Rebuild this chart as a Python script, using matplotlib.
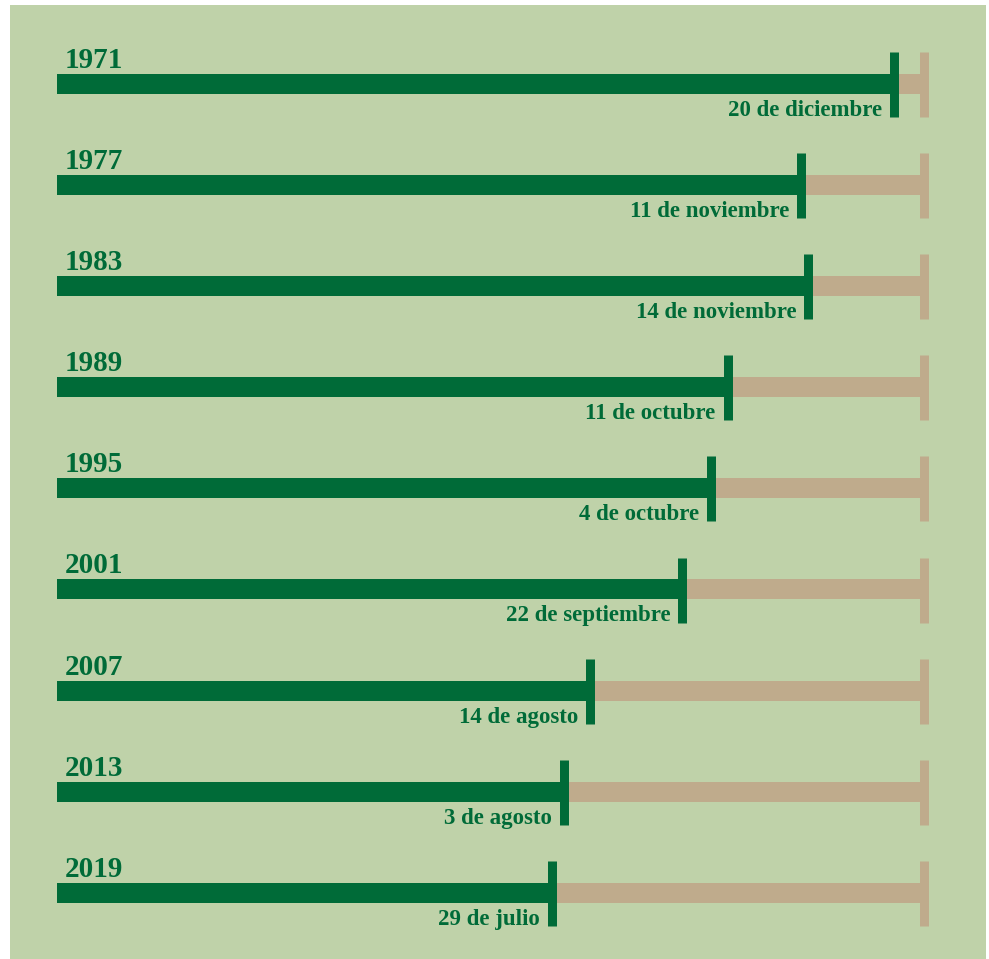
import matplotlib.pyplot as plt
from matplotlib.patches import Rectangle

# ------------------------------------------------------------
#  Datos: día del año en que se agotan los recursos
# ------------------------------------------------------------
anios  = ["1971", "1977", "1983", "1989", "1995", "2001", "2007", "2013", "2019"]
dias   = [354, 315, 318, 284, 277, 265, 226, 215, 210]
fechas = ["20 de diciembre", "11 de noviembre", "14 de noviembre",
          "11 de octubre", "4 de octubre", "22 de septiembre",
          "14 de agosto", "3 de agosto", "29 de julio"]
DIAS_ANIO = 365

VERDE  = "#006b38"
BEIGE  = "#bfab8c"
FONDO  = "#bfd2a9"
FUENTE = "Liberation Serif"

W, H, DPI = 989, 959, 100
fig = plt.figure(figsize=(W / DPI, H / DPI), dpi=DPI, facecolor="white")

# fondo verde con borde blanco (detrás de los ejes)
fig.patches.append(Rectangle((10 / W, 0), 976 / W, (H - 5) / H,
                             transform=fig.transFigure, facecolor=FONDO,
                             edgecolor="none", zorder=-10))

ax = fig.add_axes([0, 0, 1, 1])
ax.set_facecolor("none")
px_dia = 867 / DIAS_ANIO
ax.set_xlim(-57 / px_dia, (W - 57) / px_dia)
fila = 101.1
ax.set_ylim((H - 84) / fila, -84 / fila)
ax.axis("off")

alto_barra = 20 / fila
tick_arr, tick_ab = 32 / fila, 33 / fila
tick_lw = 9 * 72 / DPI
off_tick = 4 / px_dia

for i, (anio, dia, fecha) in enumerate(zip(anios, dias, fechas)):
    # parte consumida y parte restante
    ax.barh(i, dia, height=alto_barra, left=0, color=VERDE, zorder=2)
    ax.barh(i, DIAS_ANIO - dia, height=alto_barra, left=dia, color=BEIGE, zorder=1)
    # marcas
    ax.vlines(dia - off_tick, i - tick_arr, i + tick_ab, color=VERDE,
              linewidth=tick_lw, zorder=3)
    ax.vlines(DIAS_ANIO, i - tick_arr, i + tick_ab, color=BEIGE,
              linewidth=tick_lw, zorder=1)
    # textos
    ax.text(8 / px_dia, i - 16 / fila, anio, ha="left", va="baseline",
            fontsize=21, fontweight="bold", family=FUENTE, color=VERDE)
    ax.text(dia - off_tick - 12 / px_dia, i + 32 / fila, fecha, ha="right",
            va="baseline", fontsize=16.5, fontweight="bold",
            family=FUENTE, color=VERDE)

plt.savefig("out.png", dpi=DPI, facecolor="white")
plt.close()
